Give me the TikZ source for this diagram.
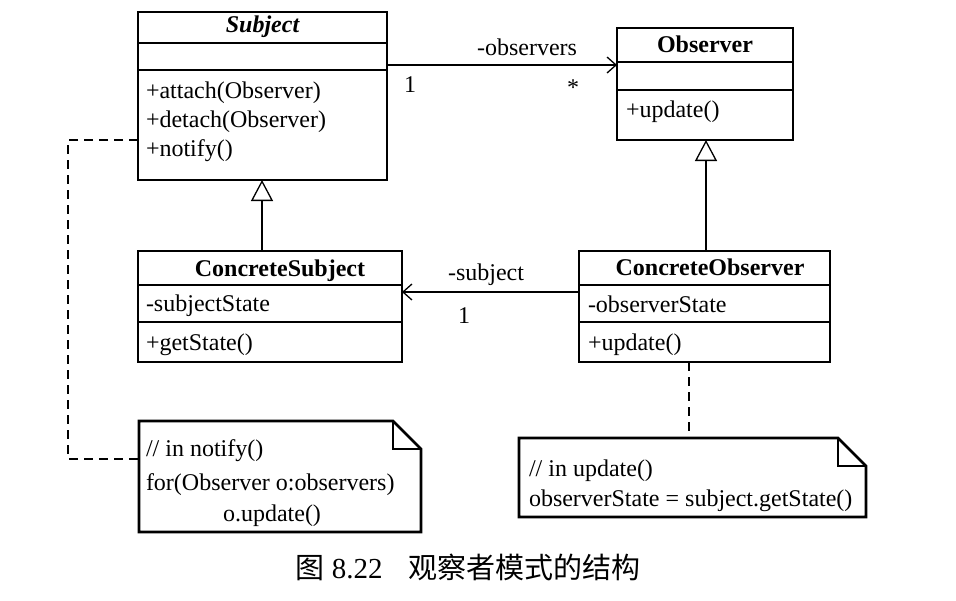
\documentclass[tikz,border=0pt]{standalone}
\usepackage{fontspec}
\setmainfont{Liberation Serif}
\newfontfamily\cjk{Noto Sans CJK SC}
\usetikzlibrary{arrows.meta}
\begin{document}
\begin{tikzpicture}[x=1pt,y=-1pt,
  every node/.style={font=\fontsize{24}{30}\selectfont, inner sep=0pt, outer sep=0pt},
  classbox/.style={draw, line width=2.8pt, rectangle},
  notebox/.style={rectangle},
  heavy/.style={line width=2.8pt},
  conn/.style={line width=1.3pt},
  assoc/.style={conn, -{Straight Barb[length=9pt,width=16pt,line width=1.3pt]}},
  inherit/.style={conn, -{Triangle[open,length=21pt,width=22pt,line width=1.3pt,fill=white]}},
  noteconn/.style={conn, dash pattern=on 9pt off 6pt},
  txt/.style={anchor=base west},
  ctxt/.style={anchor=base}]
\useasboundingbox (0,0) rectangle (956,600);

% ---- classes ----
\node[classbox, minimum width=249pt, minimum height=168pt] (subject) at (262.5,96) {};
\draw[heavy] (138,43) -- (387,43) (138,70) -- (387,70);
\node[ctxt, font=\fontsize{24}{30}\selectfont\bfseries\itshape] (subjectT) at (262.5,32) {Subject};
\node[txt] (sm1) at (146,98) {+attach(Observer)};
\node[txt] (sm2) at (146,127) {+detach(Observer)};
\node[txt] (sm3) at (146,156) {+notify()};

\node[classbox, minimum width=176pt, minimum height=112pt] (observer) at (705,84) {};
\draw[heavy] (617,62) -- (793,62) (617,90) -- (793,90);
\node[ctxt, font=\fontsize{24}{30}\selectfont\bfseries] (observerT) at (705,52) {Observer};
\node[txt] (om1) at (626,117) {+update()};

\node[classbox, minimum width=264pt, minimum height=111pt] (consub) at (270,306.5) {};
\draw[heavy] (138,285) -- (402,285) (138,322) -- (402,322);
\node[ctxt, font=\fontsize{24}{30}\selectfont\bfseries] (consubT) at (280,276) {ConcreteSubject};
\node[txt] (csa) at (146,311) {-subjectState};
\node[txt] (csm) at (146,350) {+getState()};

\node[classbox, minimum width=251pt, minimum height=111pt] (conobs) at (704.5,306.5) {};
\draw[heavy] (579,285) -- (830,285) (579,322) -- (830,322);
\node[ctxt, font=\fontsize{24}{30}\selectfont\bfseries] (conobsT) at (710,275) {ConcreteObserver};
\node[txt] (coa) at (588,312) {-observerState};
\node[txt] (com) at (588,350) {+update()};

% ---- notes ----
\node[notebox, minimum width=282pt, minimum height=111pt] (note1) at (280,476.5) {};
\draw[heavy, line join=miter] (note1.north west) -- ([xshift=-28pt]note1.north east)
  -- ([yshift=-28pt]note1.north east) -- (note1.south east) -- (note1.south west) -- cycle;
\draw[heavy] ([xshift=-28pt]note1.north east) -- ([xshift=-28pt,yshift=-28pt]note1.north east)
  -- ([yshift=-28pt]note1.north east);
\node[txt] (n1a) at (146,456) {// in notify()};
\node[txt] (n1b) at (146,490) {for(Observer o:observers)};
\node[ctxt] (n1c) at (272,521) {o.update()};

\node[notebox, minimum width=347pt, minimum height=79pt] (note2) at (692.5,477.5) {};
\draw[heavy, line join=miter] (note2.north west) -- ([xshift=-28pt]note2.north east)
  -- ([yshift=-28pt]note2.north east) -- (note2.south east) -- (note2.south west) -- cycle;
\draw[heavy] ([xshift=-28pt]note2.north east) -- ([xshift=-28pt,yshift=-28pt]note2.north east)
  -- ([yshift=-28pt]note2.north east);
\node[txt] (n2a) at (529,476) {// in update()};
\node[txt] (n2b) at (529,506) {observerState = subject.getState()};

% ---- connectors ----
\coordinate (obsY) at (0,65);
\draw[assoc] (subject.east |- obsY) -- (observer.west |- obsY);
\node[ctxt] (lobs) at (527,55) {-observers};
\node[ctxt] (lone1) at (410,92) {1};
\node[ctxt] (lstar) at (573,95) {*};

\coordinate (subY) at (0,292);
\draw[assoc] (conobs.west |- subY) -- (consub.east |- subY);
\node[ctxt] (lsub) at (486,280) {-subject};
\node[ctxt] (lone2) at (464,323) {1};

\coordinate (inhX1) at (262,0);
\draw[inherit] (consub.north -| inhX1) -- (subject.south -| inhX1);
\coordinate (inhX2) at (706,0);
\draw[inherit] (conobs.north -| inhX2) -- (observer.south -| inhX2);

\coordinate (dashX) at (68,0);
\coordinate (subDashY) at (0,140);
\coordinate (n1DashY) at (0,459);
\draw[noteconn] (subject.west |- subDashY) -- (dashX |- subDashY) -- (dashX |- n1DashY) -- (note1.west |- n1DashY);
\coordinate (n2X) at (689,0);
\draw[noteconn] (conobs.south -| n2X) -- (note2.north -| n2X);

% ---- caption ----
\node[anchor=base, font=\fontsize{29}{34}\selectfont] (caption) at (468,578) {{\cjk 图} 8.22\hspace{26pt}{\cjk 观察者模式的结构}};
\end{tikzpicture}
\end{document}
